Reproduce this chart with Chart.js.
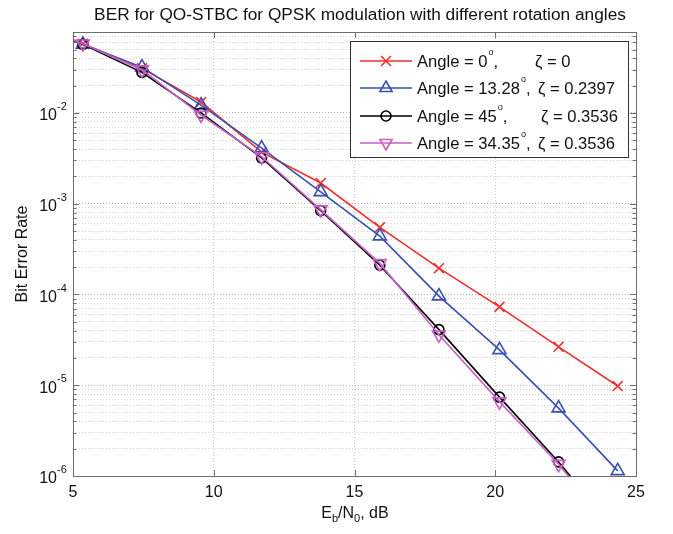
<!DOCTYPE html>
<html>
<head>
<meta charset="utf-8">
<script src="https://cdn.jsdelivr.net/npm/chart.js@4.4.1/dist/chart.umd.min.js"></script>
<style>
  body { margin: 0; background: #fff; }
</style>
</head>
<body>
<canvas id="berChart" width="673" height="534"></canvas>
<script>
// Eb/N0 (dB) - first point lies left of the axis, it is clipped like in the original
var ebno = [3.25, 5.35, 7.45, 9.55, 11.7, 13.8, 15.9, 18.0, 20.15, 22.25, 24.35];

var berAngle0  = [0.105, 0.058, 0.031, 0.0132, 0.0037, 0.00169, 5.5e-4, 1.95e-4, 7.3e-5, 2.65e-5, 9.8e-6];
var berAngle13 = [0.105, 0.057, 0.032, 0.0122, 0.0041, 0.00135, 4.4e-4, 9.6e-5, 2.45e-5, 5.6e-6, 1.14e-6];
var berAngle45 = [0.105, 0.057, 0.028, 0.0100, 0.0032, 8.4e-4, 2.1e-4, 4.1e-5, 7.4e-6, 1.43e-6, 2.3e-7];
var berAngle34 = [0.105, 0.058, 0.030, 0.0095, 0.0033, 8.6e-4, 2.2e-4, 3.6e-5, 6.6e-6, 1.35e-6, 2.2e-7];

var legendAngles = ['0', '13.28', '45', '34.35'];
var legendZetas = ['0', '0.2397', '0.3536', '0.3536'];

var xTicks = [5, 10, 15, 20, 25];
var yDecades = [-6, -5, -4, -3, -2];

var FONT = '"Liberation Sans", Arial, Helvetica, sans-serif';
var colors = ['#f0302c', '#3a4fb2', '#000000', '#c660c6'];
var markers = ['crossRot', 'triangle', 'circle', 'triangleDown'];

function toPoints(ys) {
  var pts = [];
  for (var i = 0; i < ebno.length; i++) {
    pts.push({x: ebno[i], y: ys[i]});
  }
  return pts;
}

function makeSet(label, ys, idx, style, radius, rot) {
  return {
    label: label,
    data: toPoints(ys),
    borderColor: colors[idx],
    backgroundColor: colors[idx],
    pointBorderColor: colors[idx],
    pointBackgroundColor: 'rgba(0,0,0,0)',
    pointStyle: style,
    pointRadius: radius,
    pointRotation: rot,
    pointBorderWidth: 1.6,
    borderWidth: 1.6,
    tension: 0,
    order: 4 - idx
  };
}

// draw a marker by hand for the legend
function drawMarker(ctx, type, x, y, color) {
  ctx.save();
  ctx.strokeStyle = color;
  ctx.lineWidth = 1.6;
  ctx.beginPath();
  if (type == 'crossRot') {
    var d = 7 * Math.SQRT1_2;
    ctx.moveTo(x - d, y - d); ctx.lineTo(x + d, y + d);
    ctx.moveTo(x + d, y - d); ctx.lineTo(x - d, y + d);
  } else if (type == 'circle') {
    ctx.arc(x, y, 5, 0, Math.PI * 2);
  } else {
    var r = 7;
    var s = type == 'triangle' ? 1 : -1;
    ctx.moveTo(x, y - s * r);
    ctx.lineTo(x + r * Math.sin(2 * Math.PI / 3), y + s * r / 2);
    ctx.lineTo(x - r * Math.sin(2 * Math.PI / 3), y + s * r / 2);
    ctx.closePath();
  }
  ctx.stroke();
  ctx.restore();
}

var yTickValues = [];
for (var e = -6; e <= -2; e++) {
  for (var m = 1; m <= 9; m++) {
    yTickValues.push(m * Math.pow(10, e));
  }
}

var decorations = {
  id: 'decorations',
  afterDraw: function(chart) {
    var ctx = chart.ctx;
    var a = chart.chartArea;
    var xs = chart.scales.x;
    var ys = chart.scales.y;

    ctx.save();
    // axes box
    ctx.strokeStyle = '#6e6e6e';
    ctx.lineWidth = 1;
    ctx.strokeRect(a.left + 0.5, a.top + 0.5, a.right - a.left, a.bottom - a.top);

    // inward tick marks
    ctx.beginPath();
    yTickValues.forEach(function(v) {
      if (v > ys.max) return;
      var py = Math.round(ys.getPixelForValue(v)) + 0.5;
      var len = (Math.abs(Math.log10(v) - Math.round(Math.log10(v))) < 1e-9) ? 6 : 3.5;
      ctx.moveTo(a.left, py); ctx.lineTo(a.left + len, py);
      ctx.moveTo(a.right, py); ctx.lineTo(a.right - len, py);
    });
    xTicks.forEach(function(v) {
      var px = Math.round(xs.getPixelForValue(v)) + 0.5;
      ctx.moveTo(px, a.bottom); ctx.lineTo(px, a.bottom - 6);
      ctx.moveTo(px, a.top); ctx.lineTo(px, a.top + 6);
    });
    ctx.stroke();

    ctx.fillStyle = '#111';
    // y tick labels 10^n
    yDecades.forEach(function(d) {
      var py = ys.getPixelForValue(Math.pow(10, d));
      ctx.font = '16px ' + FONT;
      ctx.textAlign = 'right';
      ctx.textBaseline = 'middle';
      ctx.fillText('10', 57, py + 3);
      ctx.font = '11px ' + FONT;
      ctx.textAlign = 'left';
      ctx.fillText(String(d), 57, py - 6);
    });

    // x tick labels
    ctx.font = '16px ' + FONT;
    ctx.textAlign = 'center';
    ctx.textBaseline = 'middle';
    xTicks.forEach(function(v) {
      ctx.fillText(String(v), xs.getPixelForValue(v), 493);
    });

    // title
    ctx.font = '17.3px ' + FONT;
    ctx.textBaseline = 'alphabetic';
    ctx.fillText('BER for QO-STBC for QPSK modulation with different rotation angles', 360, 20);

    // x axis title with subscripts
    var parts = [['E', 0, 16], ['b', 4, 11], ['/N', 0, 16], ['0', 4, 11], [', dB', 0, 16]];
    var total = 0;
    parts.forEach(function(p) { ctx.font = p[2] + 'px ' + FONT; total += ctx.measureText(p[0]).width; });
    var cx = 355 - total / 2;
    ctx.textAlign = 'left';
    parts.forEach(function(p) {
      ctx.font = p[2] + 'px ' + FONT;
      ctx.fillText(p[0], cx, 518 + p[1]);
      cx += ctx.measureText(p[0]).width;
    });

    // y axis title
    ctx.save();
    ctx.translate(23, 254);
    ctx.rotate(-Math.PI / 2);
    ctx.font = '16px ' + FONT;
    ctx.textAlign = 'center';
    ctx.textBaseline = 'middle';
    ctx.fillText('Bit Error Rate', 0, 0);
    ctx.restore();

    // legend box
    ctx.fillStyle = '#fff';
    ctx.fillRect(350, 41, 278, 116);
    ctx.strokeStyle = '#333';
    ctx.strokeRect(350.5, 41.5, 278, 116);
    var rowY = [61, 88, 116, 143];
    var zetaX = [535, 538, 541, 538];
    for (var i = 0; i < 4; i++) {
      var y = rowY[i];
      ctx.strokeStyle = colors[i];
      ctx.lineWidth = 1.6;
      ctx.beginPath();
      ctx.moveTo(360, y); ctx.lineTo(412, y);
      ctx.stroke();
      drawMarker(ctx, markers[i], 386, y, colors[i]);

      ctx.fillStyle = '#111';
      ctx.textBaseline = 'middle';
      ctx.textAlign = 'left';
      ctx.font = '16.6px ' + FONT;
      var t = 'Angle = ' + legendAngles[i];
      ctx.fillText(t, 417, y + 1);
      var w = ctx.measureText(t).width;
      ctx.font = '9px ' + FONT;
      ctx.fillText('o', 417 + w + 1, y - 8);
      ctx.font = '16.6px ' + FONT;
      ctx.fillText(',', 417 + w + 6, y + 1);
      ctx.fillText('\u03B6 = ' + legendZetas[i], zetaX[i], y + 1);
    }
    ctx.restore();
  }
};

var ctx = document.getElementById('berChart');

var berChart = new Chart(ctx, {
  type: 'line',
  data: {
    datasets: [
      makeSet('Angle = 0, zeta = 0', berAngle0, 0, 'crossRot', 7, 0),
      makeSet('Angle = 13.28, zeta = 0.2397', berAngle13, 1, 'triangle', 7.5, 0),
      makeSet('Angle = 45, zeta = 0.3536', berAngle45, 2, 'circle', 5, 0),
      makeSet('Angle = 34.35, zeta = 0.3536', berAngle34, 3, 'triangle', 7.5, 180)
    ]
  },
  options: {
    responsive: false,
    animation: false,
    layout: { padding: { top: 32, right: 37, left: 0, bottom: 0 } },
    plugins: {
      legend: { display: false },
      title: { display: false },
      tooltip: { enabled: false }
    },
    scales: {
      x: {
        type: 'linear',
        min: 5,
        max: 25,
        ticks: { display: false, stepSize: 5 },
        grid: { color: '#c8c8c8', drawTicks: false, lineWidth: 1 },
        border: { display: false, dash: [1, 2] },
        afterFit: function(s) { s.height = 58; }
      },
      y: {
        type: 'logarithmic',
        min: 1e-6,
        max: 0.078,
        ticks: { display: false },
        afterBuildTicks: function(s) {
          s.ticks = yTickValues.filter(function(v) { return v <= 0.078; })
            .map(function(v) { return {value: v}; });
        },
        grid: {
          color: function(c) {
            var v = c.tick ? c.tick.value : 1;
            var l = Math.log10(v);
            return Math.abs(l - Math.round(l)) < 1e-9 ? '#b4b4b4' : '#d4d4d4';
          },
          drawTicks: false,
          lineWidth: 1
        },
        border: { display: false, dash: [1, 2] },
        afterFit: function(s) { s.width = 73; }
      }
    }
  },
  plugins: [decorations]
});
</script>
</body>
</html>
